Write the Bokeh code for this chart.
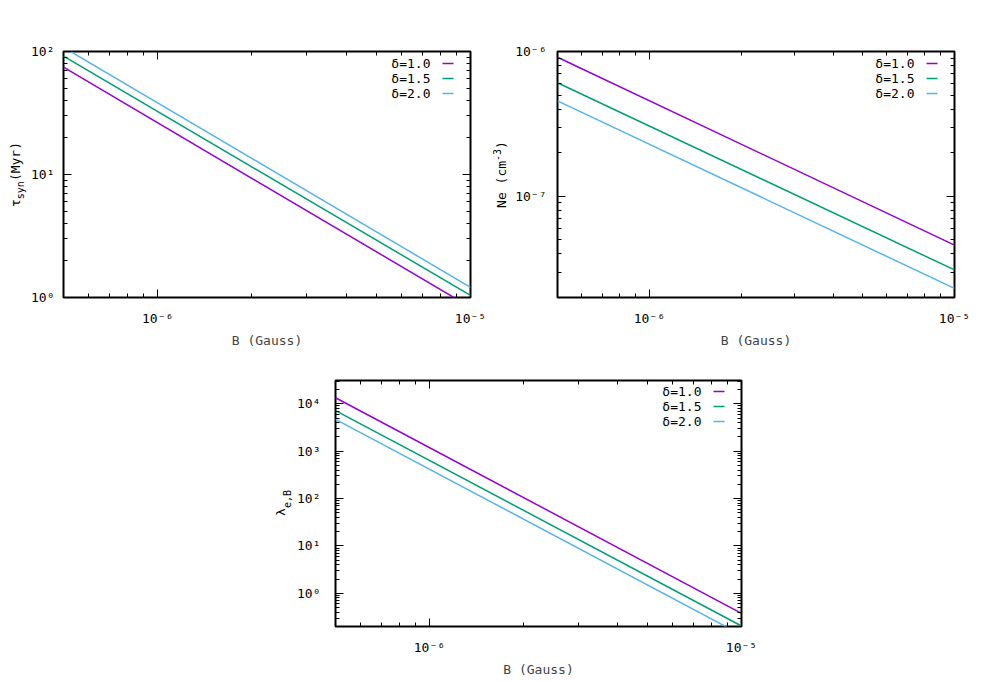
import math
from bokeh.plotting import figure
from bokeh.models import (Range1d, LogAxis, FixedTicker, CustomJSTickFormatter,
                          Label, Arrow, Spacer)
from bokeh.layouts import column, row
from bokeh.embed import file_html
from bokeh.resources import INLINE

# ---------------- data ----------------
B = [5e-7, 1e-5]                       # Gauss, end points of each straight log-log line
deltas = ["δ=1.0", "δ=1.5", "δ=2.0"]
colors = ["#9400d3", "#009e73", "#56b4e9"]

tau_d10 = [74.5, 0.833]                # Myr
tau_d15 = [91.6, 1.04]
tau_d20 = [108.0, 1.21]

ne_d10 = [9.13e-7, 4.6e-8]             # cm^-3
ne_d15 = [6.08e-7, 3.1e-8]
ne_d20 = [4.56e-7, 2.31e-8]

lam_d10 = [1.34e4, 0.38]
lam_d15 = [7.2e3, 0.205]
lam_d20 = [4.7e3, 0.133]

x_major = [1e-6, 1e-5]
x_major_labels = ["10⁻⁶", "10⁻⁵"]
x_minor = [5e-7, 6e-7, 7e-7, 8e-7, 9e-7, 2e-6, 3e-6, 4e-6, 5e-6, 6e-6, 7e-6, 8e-6, 9e-6]

tau_major = [1, 10, 100]
tau_major_labels = ["10⁰", "10¹", "10²"]
tau_minor = [2, 3, 4, 5, 6, 7, 8, 9, 20, 30, 40, 50, 60, 70, 80, 90]

ne_major = [1e-7, 1e-6]
ne_major_labels = ["10⁻⁷", "10⁻⁶"]
ne_minor = [2e-8, 3e-8, 4e-8, 5e-8, 6e-8, 7e-8, 8e-8, 9e-8,
            2e-7, 3e-7, 4e-7, 5e-7, 6e-7, 7e-7, 8e-7, 9e-7]

lam_major = [1e0, 1e1, 1e2, 1e3, 1e4]
lam_major_labels = ["10⁰", "10¹", "10²", "10³", "10⁴"]
lam_minor = [m * d for d in [0.1, 1, 10, 100, 1000, 10000] for m in [2, 3, 4, 5, 6, 7, 8, 9]]

FONT = "DejaVu Sans Mono"


def fmt(ticks, labels):
    return CustomJSTickFormatter(args=dict(t=ticks, l=labels), code="""
        for (let i = 0; i < t.length; i++) {
            if (Math.abs(Math.log10(tick) - Math.log10(t[i])) < 1e-6) return l[i];
        }
        return "";
    """)


def style_axis(ax, ticks, minor, labels, show_labels, standoff):
    ax.ticker = FixedTicker(ticks=ticks, minor_ticks=minor)
    ax.axis_line_color = None
    ax.major_tick_in = 8
    ax.major_tick_out = 0
    ax.minor_tick_in = 4
    ax.minor_tick_out = 0
    ax.major_tick_line_color = "black"
    ax.minor_tick_line_color = "black"
    ax.major_label_text_font = FONT
    if show_labels:
        ax.formatter = fmt(ticks, labels)
        ax.major_label_text_color = "black"
        ax.major_label_text_font_size = "13px"
        ax.major_label_standoff = standoff
    else:
        ax.major_label_text_color = None
        ax.major_label_text_alpha = 0
        ax.major_label_text_font_size = "1px"
        ax.major_label_standoff = 0


def make_panel(width, height, bl, br, bt, bb, yr, yt, ymin, ylab, ystand, xstand, xlstand):
    p = figure(width=width, height=height, x_axis_type="log", y_axis_type="log",
               x_range=Range1d(B[0], B[1]), y_range=Range1d(*yr),
               output_backend="svg", toolbar_location=None,
               min_border_left=bl, min_border_right=br, min_border_top=bt, min_border_bottom=bb)
    p.grid.visible = False
    p.outline_line_color = "black"
    p.outline_line_width = 2
    p.background_fill_color = "white"
    p.border_fill_color = "white"
    style_axis(p.xaxis[0], x_major, x_minor, x_major_labels, True, xstand)
    style_axis(p.yaxis[0], yt, ymin, ylab, True, ystand)
    p.xaxis[0].axis_label = "B (Gauss)"
    p.xaxis[0].axis_label_text_font = FONT
    p.xaxis[0].axis_label_text_font_size = "13px"
    p.xaxis[0].axis_label_text_font_style = "normal"
    p.xaxis[0].axis_label_standoff = xlstand
    top = LogAxis()
    style_axis(top, x_major, x_minor, x_major_labels, False, 0)
    p.add_layout(top, "above")
    right = LogAxis()
    style_axis(right, yt, ymin, ylab, False, 0)
    p.add_layout(right, "right")
    return p


def label_strip(width, height, frame_h, pieces, base_x):
    """A narrow, axis-less figure that holds a vertical, multi-part axis title.
    Its frame is aligned by the row with the neighbouring plot frame (frame_h tall).
    base_x: baseline of the main text in pixels from the strip's left edge."""
    s = figure(width=width, height=height, x_range=Range1d(0, 1), y_range=Range1d(0, 1),
               x_axis_location=None, y_axis_location=None, title=None,
               output_backend="svg", toolbar_location=None,
               min_border_left=0, min_border_right=0, min_border_top=0, min_border_bottom=0)
    s.grid.visible = False
    s.outline_line_color = None
    s.background_fill_color = "white"
    s.border_fill_color = "white"
    total = sum(len(t) * 0.602 * fs for t, fs, dx in pieces)
    pos = frame_h / 2 - total / 2       # lower end of the title (text runs upward)
    for t, fs, dx in pieces:
        L = len(t) * 0.602 * fs
        cy = pos + L / 2
        cx = base_x + dx - 0.3 * fs     # middle of the em box, left of the baseline
        s.add_layout(Label(x=cx, y=cy, x_units="screen", y_units="screen", text=t,
                           angle=math.pi / 2, text_align="center", text_baseline="middle",
                           text_font=FONT, text_font_size=f"{fs}px", text_color="black"))
        pos += L
    return s


def key(p, fw, fh):
    for i, (lab, c) in enumerate(zip(deltas, colors)):
        y = fh - 12 - 15 * i
        p.add_layout(Label(x=fw - 42, y=y, x_units="screen", y_units="screen", text=lab,
                           text_align="right", text_baseline="middle", text_font=FONT,
                           text_font_size="13px", text_color="black"))
        p.add_layout(Arrow(x_start=fw - 30, y_start=y, x_end=fw - 19, y_end=y,
                           start_units="screen", end_units="screen", end=None,
                           line_color=c, line_width=1.5))


H1 = 358
# ---- panel 1: tau_syn ----
lab1 = label_strip(28, H1, 246, [("τ", 13, 0), ("syn", 10, 4), ("(Myr)", 13, 0)], 19)
p1 = make_panel(462, H1, 33, 20, 51, 61, (1, 100), tau_major, tau_minor, tau_major_labels, 9, 13, 4)
for ys, c in zip([tau_d10, tau_d15, tau_d20], colors):
    p1.line(B, ys, line_color=c, line_width=1.5)
key(p1, 409, 246)

# ---- panel 2: Ne ----
lab2 = label_strip(22, H1, 246, [("Ne (cm", 13, 0), ("-3", 10, -6), (")", 13, 0)], 15)
p2 = make_panel(468, H1, 43, 26, 51, 61, (2e-8, 1e-6), ne_major, ne_minor, ne_major_labels, 11, 13, 4)
for ys, c in zip([ne_d10, ne_d15, ne_d20], colors):
    p2.line(B, ys, line_color=c, line_width=1.5)
key(p2, 399, 246)

# ---- panel 3: lambda ----
H3 = 321
lab3 = label_strip(26, H3, 247, [("λ", 13, 0), ("e,B", 10, 6)], 16)
p3 = make_panel(470, H3, 39, 23, 22, 52, (0.2, 3.1e4), lam_major, lam_minor, lam_major_labels, 15, 13, 4)
for ys, c in zip([lam_d10, lam_d15, lam_d20], colors):
    p3.line(B, ys, line_color=c, line_width=1.5)
key(p3, 408, 247)

layout = column(row(lab1, p1, lab2, p2), row(Spacer(width=268, height=10), lab3, p3))

open("out.html", "w", encoding="utf-8").write(file_html(layout, INLINE))
